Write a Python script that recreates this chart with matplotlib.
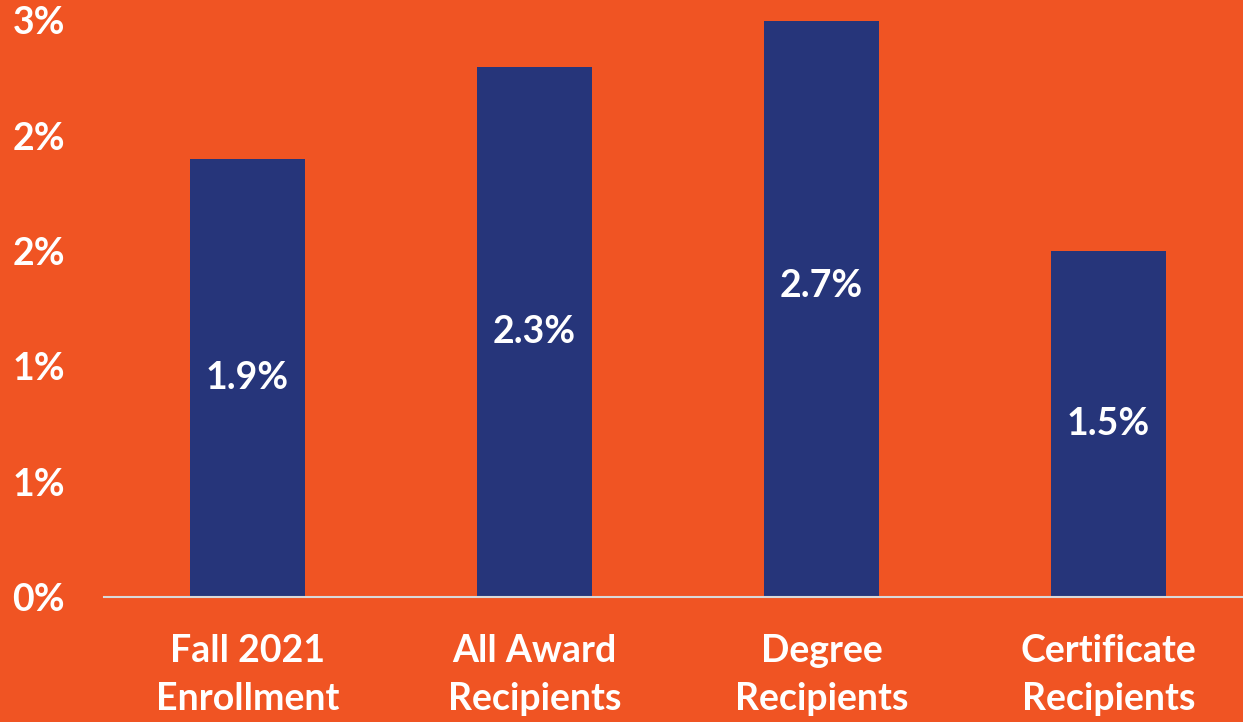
import matplotlib
matplotlib.use("Agg")
import matplotlib.pyplot as plt
from matplotlib.ticker import FixedLocator, FuncFormatter
from decimal import Decimal, ROUND_HALF_UP

categories = ["Fall 2021\nEnrollment", "All Award\nRecipients", "Degree\nRecipients", "Certificate\nRecipients"]
values = [1.9, 2.3, 2.7, 1.5]
value_labels = ["1.9%", "2.3%", "2.7%", "1.5%"]
yticks = [0, 0.5, 1.0, 1.5, 2.0, 2.5]

BG = "#F05423"
BAR = "#26357A"
FONT = "Lato"
FS = 27

W, H = 1243, 722
fig = plt.figure(figsize=(W / 100, H / 100), dpi=100, facecolor=BG)
ax = fig.add_axes([104 / W, (H - 597) / H, 1148 / W, (597 - 20.5) / H])
ax.set_facecolor(BG)

x = list(range(len(categories)))
ax.bar(x, values, width=0.4, color=BAR, zorder=2)
ax.set_xlim(-0.5, len(categories) - 0.5)
ax.set_ylim(0, 2.5)

for xi, v, lab in zip(x, values, value_labels):
    ax.text(xi, v / 2, lab, ha="center", va="center", color="white",
            fontsize=FS, fontweight="bold", family=FONT, zorder=3)

def fmt(v, pos):
    return f"{int(Decimal(str(v)).quantize(Decimal('1'), rounding=ROUND_HALF_UP))}%"

ax.yaxis.set_major_locator(FixedLocator(yticks))
ax.yaxis.set_major_formatter(FuncFormatter(fmt))
ax.set_xticks(x)
ax.set_xticklabels(categories, linespacing=1.5)

for lab in ax.get_yticklabels():
    lab.set_fontweight("bold"); lab.set_family(FONT); lab.set_fontsize(FS); lab.set_color("white")
for lab in ax.get_xticklabels():
    lab.set_fontweight("bold"); lab.set_family(FONT); lab.set_fontsize(FS); lab.set_color("white")

ax.tick_params(axis="y", length=0, pad=28)
ax.tick_params(axis="x", length=0, pad=27)

for s in ["top", "right", "left"]:
    ax.spines[s].set_visible(False)
ax.spines["bottom"].set_color("#D9D9D9")
ax.spines["bottom"].set_linewidth(1.5)
ax.spines["bottom"].set_zorder(3)

fig.savefig("out.png", dpi=100, facecolor=BG)
